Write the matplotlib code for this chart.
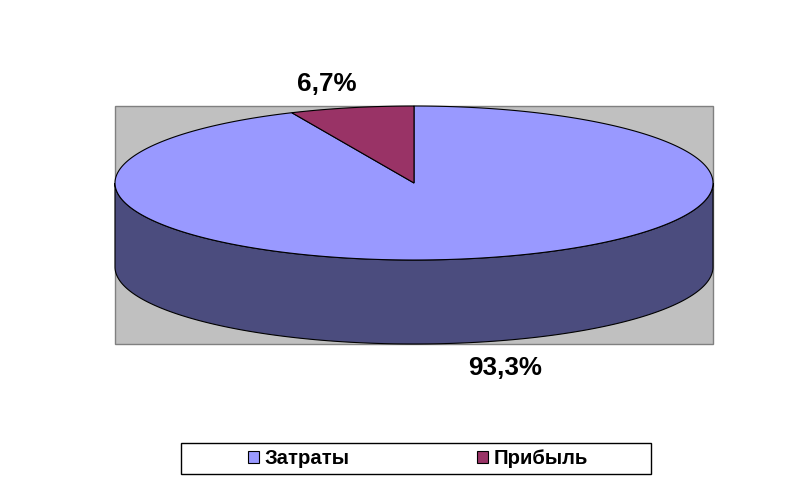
import numpy as np
import matplotlib
matplotlib.use("Agg")
import matplotlib.pyplot as plt
from matplotlib.patches import Polygon, Rectangle, Patch

categories = ["Затраты", "Прибыль"]
values = [93.3, 6.7]
value_labels = ["93,3%", "6,7%"]

colors_top = ["#9999FF", "#993366"]
colors_side = ["#4B4C7E", "#4D1A33"]

W, H = 791, 484
fig = plt.figure(figsize=(W / 100, H / 100), dpi=100)
ax = fig.add_axes([0, 0, 1, 1])
ax.set_xlim(0, W)
ax.set_ylim(H, 0)
ax.axis("off")

# plot area
ax.add_patch(Rectangle((115, 106), 598, 238, facecolor="#C0C0C0",
                       edgecolor="#808080", lw=1.0, zorder=0))

cx, cy, rx, ry, depth = 414, 183, 299, 77, 84


def pts(t, dy=0.0):
    t = np.radians(t)
    return np.column_stack([cx + rx * np.cos(t), cy - ry * np.sin(t) + dy])


fracs = np.array(values) / np.sum(values)
angles = []
a = 90.0
for f in fracs:
    angles.append((a - 360 * f, a))
    a -= 360 * f

# sides (front half only)
for (t1, t2), col in zip(angles, colors_side):
    for k in (-2, -1, 0, 1):
        lo = max(t1, 180 + 360 * k)
        hi = min(t2, 360 + 360 * k)
        if hi > lo:
            ts = np.linspace(lo, hi, 200)
            top = pts(ts)
            bot = pts(ts[::-1], depth)
            ax.add_patch(Polygon(np.vstack([top, bot]), closed=True,
                                 facecolor=col, edgecolor="black", lw=0.8,
                                 zorder=2))

# tops
for (t1, t2), col in zip(angles, colors_top):
    ts = np.linspace(t1, t2, 400)
    arc = pts(ts)
    poly = np.vstack([[cx, cy], arc])
    ax.add_patch(Polygon(poly, closed=True, facecolor=col,
                         edgecolor="black", lw=0.8, zorder=3))

font = dict(family="Liberation Sans", weight="bold")
ax.text(505, 368, value_labels[0], ha="center", va="center",
        fontsize=18.7, color="black", **font)
ax.text(327, 84, value_labels[1], ha="center", va="center",
        fontsize=18.7, color="black", **font)

# legend frame
ax.add_patch(Rectangle((181, 443), 470, 31, facecolor="white",
                       edgecolor="black", lw=1.0, zorder=1))
handles = [Patch(facecolor=c, edgecolor="black", lw=0.8) for c in colors_top]
ax.legend(handles, categories, loc="center",
          bbox_to_anchor=(418 / W, 1 - 459 / H), bbox_transform=fig.transFigure,
          ncol=2, frameon=False, handlelength=0.55, handleheight=0.55,
          handletextpad=0.25, columnspacing=6.3,
          prop=dict(family="Liberation Sans", weight="bold", size=14.6))

fig.savefig("out.png", dpi=100, facecolor="white")
